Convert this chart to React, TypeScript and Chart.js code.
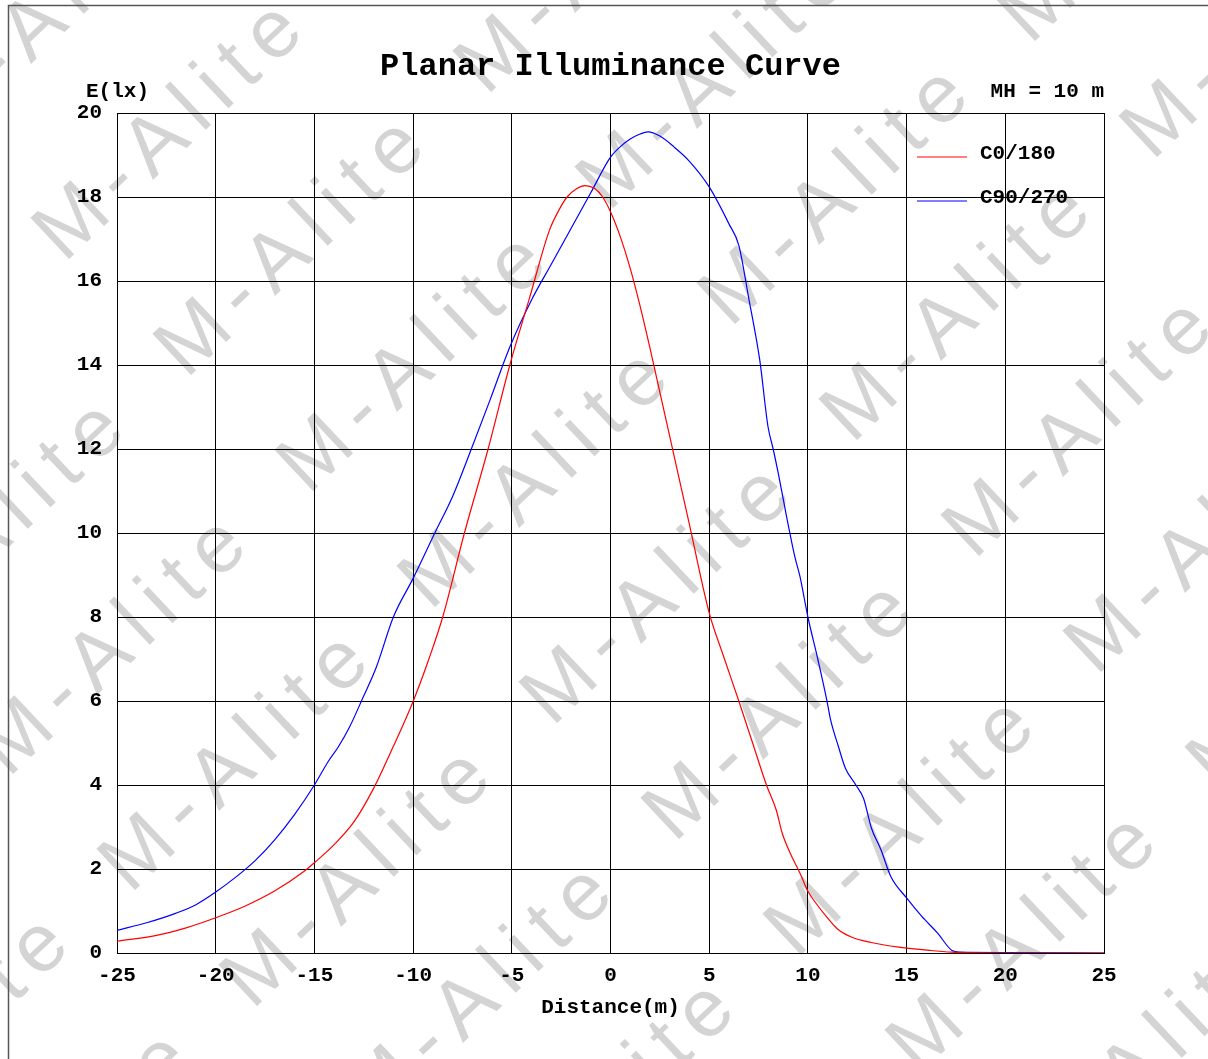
import { useEffect, useRef } from 'react';
import { Chart, registerables } from 'chart.js';

Chart.register(...registerables);

const TITLE = 'Planar Illuminance Curve';
const Y_LABEL = 'E(lx)';
const X_LABEL = 'Distance(m)';
const NOTE = 'MH = 10 m';
const WATERMARK = 'M-Alite';
const SERIES_NAMES = ['C0/180', 'C90/270'];
const SERIES_COLORS = ['#ff0000', '#0000ff'];

const X_MIN = -25;
const X_MAX = 25;
const X_STEP = 5;
const Y_MIN = 0;
const Y_MAX = 20;
const Y_STEP = 2;

const RED_X = [-25, -23, -21.5, -20, -18.5, -17, -15.5, -15, -14, -13, -12, -11, -10, -9.2, -8.5, -7.4, -6.2, -5.1, -4.1, -3.1, -2.6, -2.2, -1.7, -1.3, -0.8, -0.4, 0, 0.5, 1.0, 1.5, 2.0, 3.0, 4.0, 5.0, 5.7, 6.5, 7.2, 7.9, 8.4, 8.7, 9.1, 9.6, 10.0, 10.4, 11.0, 11.5, 12.2, 13.2, 14.6, 16.2, 17.3, 18, 20, 22, 25];
const RED_E = [0.28, 0.42, 0.6, 0.84, 1.12, 1.48, 1.95, 2.15, 2.58, 3.12, 3.92, 4.92, 5.99, 7.0, 8.0, 10.0, 12.0, 14.0, 15.6, 17.2, 17.7, 18.0, 18.2, 18.27, 18.2, 18.0, 17.65, 17.05, 16.3, 15.4, 14.4, 12.3, 10.2, 8.1, 7.1, 6.0, 5.0, 4.0, 3.4, 2.85, 2.38, 1.9, 1.47, 1.19, 0.83, 0.57, 0.38, 0.25, 0.14, 0.06, 0.02, 0.01, 0, 0, 0];

const BLUE_X = [-25, -23.5, -22, -21, -20, -19, -18, -17, -16, -15, -14.3, -13.8, -13.2, -12.55, -11.86, -11, -10, -8.9, -8, -7.05, -6.1, -5.1, -4, -3, -2, -1, 0, 0.5, 1, 1.5, 1.9, 2.5, 3.2, 4, 5, 6, 6.5, 7, 7.56, 7.98, 8.24, 8.5, 8.92, 9.34, 9.6, 10, 10.5, 10.95, 11.15, 11.55, 11.9, 12.43, 12.82, 13.22, 13.7, 14.2, 15, 15.77, 16.56, 17.3, 17.7, 20, 25];
const BLUE_E = [0.54, 0.72, 0.95, 1.15, 1.45, 1.8, 2.2, 2.7, 3.3, 4.0, 4.56, 4.9, 5.4, 6.07, 6.81, 8.0, 8.92, 10.0, 10.87, 12.0, 13.17, 14.43, 15.55, 16.4, 17.25, 18.1, 18.95, 19.2, 19.38, 19.5, 19.55, 19.45, 19.2, 18.85, 18.24, 17.36, 16.85, 15.6, 14.12, 12.53, 12.0, 11.42, 10.39, 9.43, 8.96, 8.0, 7.0, 6.04, 5.55, 4.91, 4.4, 4.0, 3.68, 2.97, 2.46, 1.82, 1.31, 0.87, 0.48, 0.06, 0.02, 0.01, 0];

const MONO = '"Liberation Mono", "Courier New", monospace';

const backgroundPlugin = {
  id: 'bgWatermark',
  beforeDraw(chart: any) {
    const ctx = chart.ctx as CanvasRenderingContext2D;
    ctx.save();
    ctx.fillStyle = '#ffffff';
    ctx.fillRect(0, 0, chart.width, chart.height);
    ctx.fillStyle = '#d4d4d4';
    ctx.font = '82px "Liberation Sans", Arial, sans-serif';
    (ctx as any).letterSpacing = '13px';
    ctx.textAlign = 'left';
    ctx.textBaseline = 'alphabetic';
    const ang = Math.atan2(-283, 300);
    for (let m = -9; m <= 9; m++) {
      for (let n = -5; n <= 6; n++) {
        const px = 557 + m * 122 + n * 300;
        const py = 683 + m * 116 - n * 283;
        if (px < -600 || px > 1800 || py < -400 || py > 1500) continue;
        ctx.save();
        ctx.translate(px, py);
        ctx.rotate(ang);
        ctx.fillText(WATERMARK, -34, 29);
        ctx.restore();
      }
    }
    ctx.restore();
    ctx.save();
    ctx.strokeStyle = '#555555';
    ctx.lineWidth = 1.5;
    ctx.beginPath();
    ctx.moveTo(8.5, chart.height);
    ctx.lineTo(8.5, 5.5);
    ctx.lineTo(chart.width, 5.5);
    ctx.stroke();
    ctx.restore();
  },
};

const textPlugin = {
  id: 'texts',
  afterDraw(chart: any) {
    const ctx = chart.ctx as CanvasRenderingContext2D;
    const area = chart.chartArea;
    ctx.save();
    ctx.fillStyle = '#000';
    ctx.textBaseline = 'middle';
    ctx.font = `bold 32px ${MONO}`;
    ctx.textAlign = 'center';
    ctx.fillText(TITLE, (area.left + area.right) / 2, 67);
    ctx.font = `bold 21px ${MONO}`;
    ctx.textAlign = 'left';
    ctx.fillText(Y_LABEL, 86, 92);
    ctx.textAlign = 'right';
    ctx.fillText(NOTE, area.right, 92);
    ctx.textAlign = 'center';
    ctx.fillText(X_LABEL, (area.left + area.right) / 2, 1008);
    chart.data.datasets.forEach((ds: any, i: number) => {
      const ly = 157 + i * 44;
      ctx.strokeStyle = ds.borderColor;
      ctx.lineWidth = 1;
      ctx.beginPath();
      ctx.moveTo(917, ly);
      ctx.lineTo(967, ly);
      ctx.stroke();
      ctx.fillStyle = '#000';
      ctx.textAlign = 'left';
      ctx.fillText(ds.label, 980, ly - 3);
    });
    ctx.restore();
  },
};

export default function App() {
  const ref = useRef<HTMLCanvasElement | null>(null);
  useEffect(() => {
    document.body.style.margin = '0';
    document.body.style.overflow = 'hidden';
    const canvas = ref.current;
    if (!canvas) return;
    const tickFont = { family: MONO, size: 21, weight: 'bold' as const };
    const chart = new Chart(canvas, {
      type: 'line',
      data: {
        datasets: [
          {
            label: SERIES_NAMES[0],
            data: RED_X.map((x, i) => ({ x, y: RED_E[i] })),
            borderColor: SERIES_COLORS[0],
            backgroundColor: SERIES_COLORS[0],
            borderWidth: 1.2,
            pointRadius: 0,
            cubicInterpolationMode: 'monotone',
            fill: false,
          },
          {
            label: SERIES_NAMES[1],
            data: BLUE_X.map((x, i) => ({ x, y: BLUE_E[i] })),
            borderColor: SERIES_COLORS[1],
            backgroundColor: SERIES_COLORS[1],
            borderWidth: 1.2,
            pointRadius: 0,
            cubicInterpolationMode: 'monotone',
            fill: false,
          },
        ],
      },
      options: {
        animation: false,
        responsive: false,
        devicePixelRatio: 1,
        layout: { padding: { top: 113, right: 104, bottom: 0, left: 0 } },
        plugins: {
          legend: { display: false },
          title: { display: false },
          tooltip: { enabled: false },
        },
        scales: {
          x: {
            type: 'linear',
            min: X_MIN,
            max: X_MAX,
            ticks: { stepSize: X_STEP, color: '#000', font: tickFont, padding: 10, maxRotation: 0, autoSkip: false },
            grid: { color: '#000', lineWidth: 1, drawTicks: false },
            border: { color: '#000', width: 1 },
            afterFit: (s: any) => { s.height = 106; },
          },
          y: {
            type: 'linear',
            min: Y_MIN,
            max: Y_MAX,
            ticks: { stepSize: Y_STEP, color: '#000', font: tickFont, padding: 15 },
            grid: { color: '#000', lineWidth: 1, drawTicks: false },
            border: { color: '#000', width: 1 },
            afterFit: (s: any) => { s.width = 117; },
          },
        },
      },
      plugins: [backgroundPlugin, textPlugin],
    });
    return () => chart.destroy();
  }, []);
  return (
    <canvas ref={ref} width={1208} height={1059} style={{ display: 'block', width: 1208, height: 1059 }} />
  );
}
